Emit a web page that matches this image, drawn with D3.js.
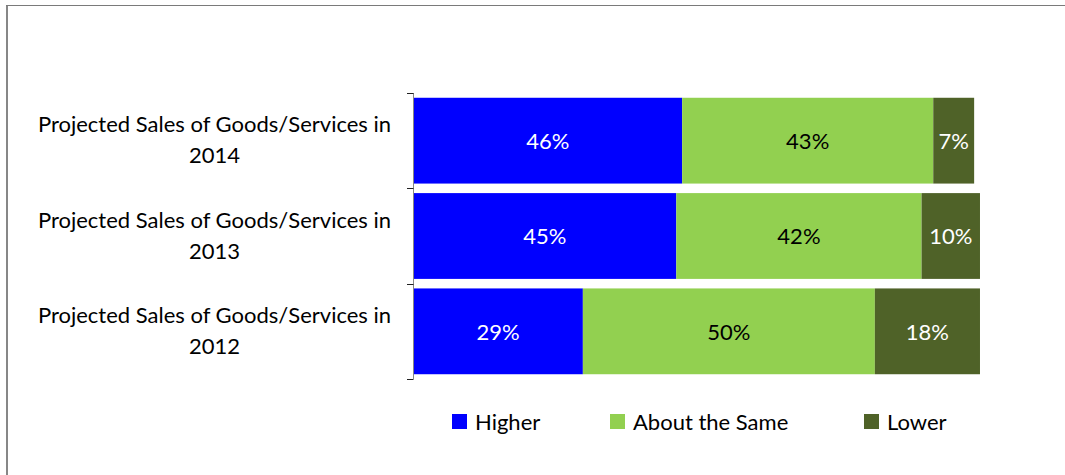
<!DOCTYPE html>
<html>
<head>
<meta charset="utf-8">
<script src="https://cdn.jsdelivr.net/npm/d3@7"></script>
<style>
  html, body { margin: 0; padding: 0; background: #fff; }
  svg { display: block; font-family: Lato, "Open Sans", sans-serif; }
</style>
</head>
<body>
<svg id="chart" width="1065" height="475"></svg>
<script>
// Survey outlook: share of respondents by projected sales direction
const categories = ["2014", "2013", "2012"];
const categoryPrefix = "Projected Sales of Goods/Services in";
const seriesNames = ["Higher", "About the Same", "Lower"];
const higher = [46, 45, 29];
const aboutSame = [43, 42, 50];
const lower = [7, 10, 18];

const colors = ["#0000ff", "#92d050", "#4f6228"];
const labelColors = ["#ffffff", "#000000", "#ffffff"];
const fontSize = 22;

const svg = d3.select("#chart");

// outer frame of the chart area
svg.append("line").attr("x1", 7).attr("x2", 7).attr("y1", 5).attr("y2", 480)
  .attr("stroke", "#878787").attr("stroke-width", 2);
svg.append("line").attr("x1", 6).attr("x2", 1070).attr("y1", 5.5).attr("y2", 5.5)
  .attr("stroke", "#7a7a7a").attr("stroke-width", 1);

const x = d3.scaleLinear().domain([0, 100]).range([413.5, 997.5]);
const y = d3.scaleBand().domain(categories).range([93, 379])
  .paddingInner(0.1).paddingOuter(0.05);

const rows = categories.map((c, i) => ({ cat: c, vals: [higher[i], aboutSame[i], lower[i]] }));
const stack = d3.stack().keys([0, 1, 2]).value((d, k) => d.vals[k]);
const layers = stack(rows);

const g = svg.append("g");
layers.forEach((layer, k) => {
  const lg = g.append("g");
  lg.selectAll("rect").data(layer).join("rect")
    .attr("x", d => x(d[0]))
    .attr("width", d => x(d[1]) - x(d[0]))
    .attr("y", d => y(d.data.cat))
    .attr("height", y.bandwidth())
    .attr("fill", colors[k]);
  lg.selectAll("text").data(layer).join("text")
    .attr("x", d => (x(d[0]) + x(d[1])) / 2)
    .attr("y", d => y(d.data.cat) + y.bandwidth() / 2)
    .attr("dy", "0.38em")
    .attr("text-anchor", "middle")
    .attr("font-size", fontSize)
    .attr("fill", labelColors[k])
    .text(d => (d[1] - d[0]) + "%");
});

// category axis with tick marks between bands
const axisX = 413.5;
const boundaries = [93].concat(categories.map((c, i) => 93 + (i + 1) * (379 - 93) / categories.length));
svg.append("line").attr("x1", axisX).attr("x2", axisX).attr("y1", 93).attr("y2", 379)
  .attr("stroke", "#868686").attr("stroke-width", 1);
svg.selectAll(".tick").data(boundaries).join("line")
  .attr("class", "tick")
  .attr("x1", 407).attr("x2", axisX)
  .attr("y1", d => Math.round(d) + 0.5).attr("y2", d => Math.round(d) + 0.5)
  .attr("stroke", "#222").attr("stroke-width", 1);

// two-line category labels
const lab = svg.selectAll(".cat").data(categories).join("text")
  .attr("class", "cat")
  .attr("text-anchor", "middle")
  .attr("font-size", fontSize)
  .attr("fill", "#000");
lab.append("tspan").attr("x", 214.5)
  .attr("y", d => y(d) + y.bandwidth() / 2 - 8.5)
  .text(categoryPrefix);
lab.append("tspan").attr("x", 214.5)
  .attr("y", d => y(d) + y.bandwidth() / 2 + 22.5)
  .text(d => d);

// legend
const legendX = [452, 610, 864];
const leg = svg.selectAll(".leg").data(seriesNames).join("g")
  .attr("class", "leg")
  .attr("transform", (d, i) => `translate(${legendX[i]},414)`);
leg.append("rect").attr("width", 15).attr("height", 15)
  .attr("fill", (d, i) => colors[i]);
leg.append("text").attr("x", 23).attr("y", 15.5)
  .attr("font-size", fontSize).attr("fill", "#000")
  .text(d => d);
</script>
</body>
</html>
